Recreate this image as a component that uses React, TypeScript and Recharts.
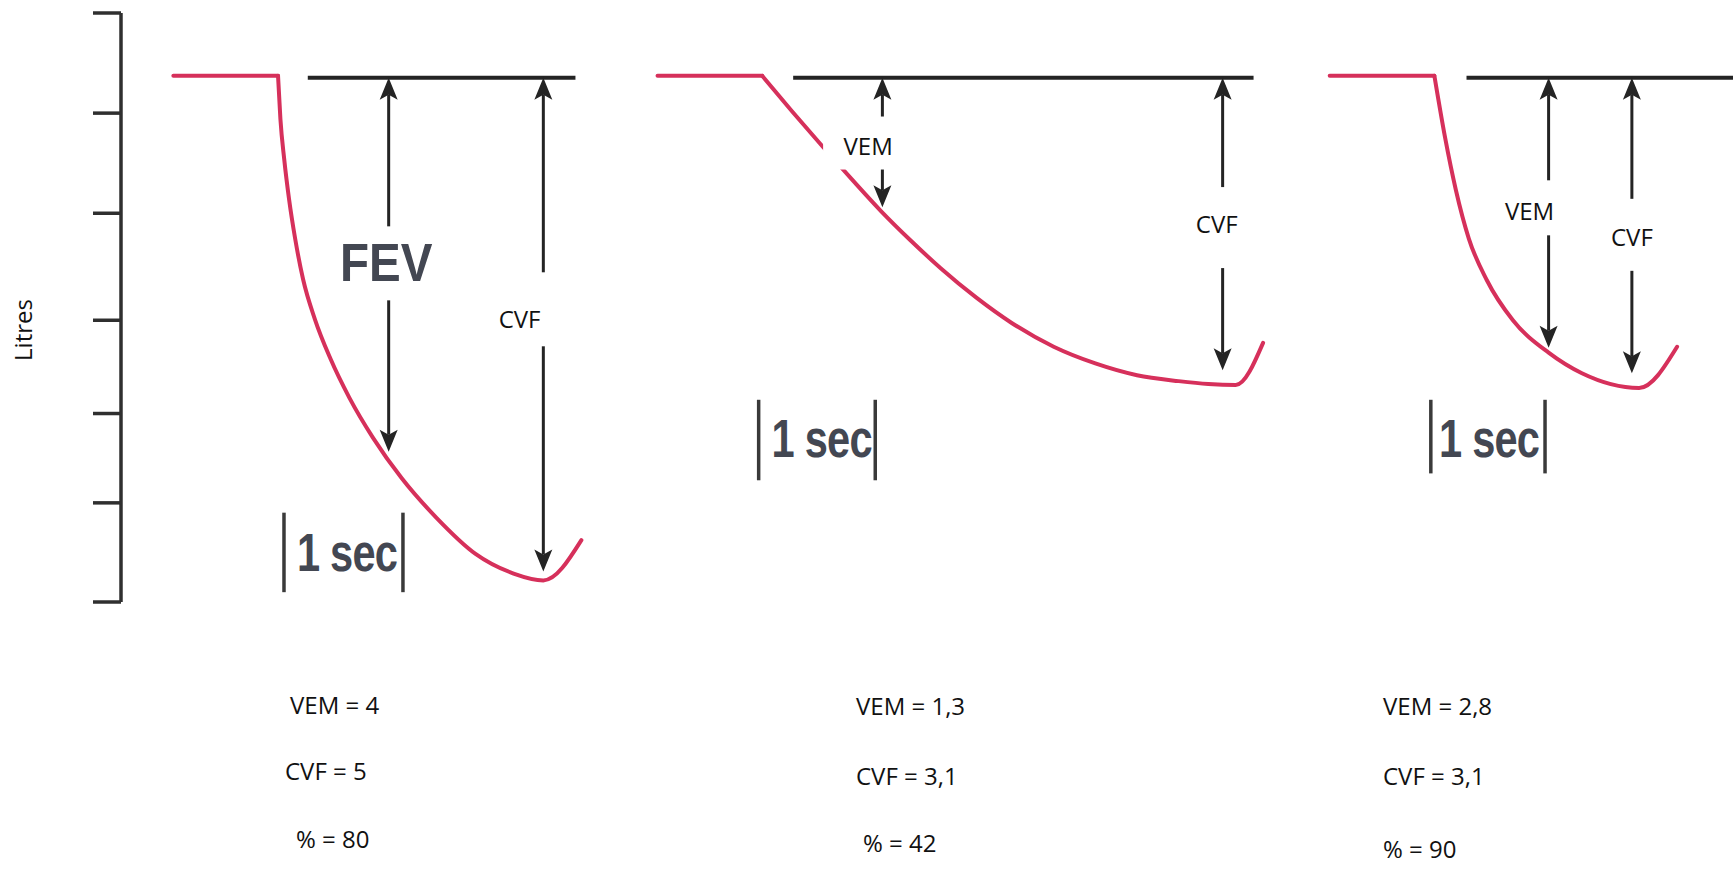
import React from 'react';
import { LineChart, Line, XAxis, YAxis, ReferenceLine, ReferenceDot } from 'recharts';

const RED = '#d6305b';
const INK = '#242424';
const AXIS = '#2f2f2f';
const LABEL_FONT = '"Open Sans", sans-serif';
const FIG_FONT = '"Liberation Sans", Arial, sans-serif';

// volume axis ticks (L)
const yTicks = [0, 1.01, 1.92, 2.87, 3.96, 4.98, 6];

// where each trace starts on the shared time axis (s)
const panelStart = [0, 4.07, 9.72];
const restFrom = -0.88;
const restVolume = 5.36;
const baselineVolume = 5.34;
const baselineFrom = [0.25, 0.26, 0.27];
const baselineTo = [2.5, 4.13, 2.51];

// expiration curves after onset: time (s) / volume (L)
const normalTime = [0, 0.02, 0.052, 0.093, 0.144, 0.21, 0.31, 0.44, 0.6, 0.8, 1.04, 1.33, 1.66, 1.98, 2.23, 2.55];
const normalVolume = [5.36, 4.92, 4.51, 4.1, 3.7, 3.29, 2.88, 2.48, 2.08, 1.67, 1.26, 0.86, 0.49, 0.29, 0.22, 0.63];

const obstructiveTime = [0, 0.25, 0.5, 0.75, 1.0, 1.25, 1.5, 1.8, 2.1, 2.45, 2.8, 3.15, 3.5, 3.75, 3.98, 4.21];
const obstructiveVolume = [5.36, 5.0, 4.65, 4.31, 3.98, 3.68, 3.4, 3.1, 2.84, 2.6, 2.43, 2.31, 2.25, 2.22, 2.21, 2.64];

const restrictiveTime = [0, 0.09, 0.18, 0.29, 0.44, 0.66, 0.96, 1.24, 1.72, 2.04];
const restrictiveVolume = [5.36, 4.73, 4.2, 3.7, 3.28, 2.87, 2.54, 2.33, 2.18, 2.6];

// double arrows: VEM (FEV) and CVF
const vemTime = [0.93, 1.01, 0.96];
const vemEnd = [1.53, 4.02, 2.59];
const cvfTime = [2.23, 3.87, 1.66];
const cvfEnd = [0.31, 2.36, 2.33];

// "|1 sec|" markers
const secFrom = [0.05, -0.03, -0.03];
const secTo = [1.05, 0.95, 0.93];
const secTop = [0.91, 2.06, 2.06];
const secBottom = [0.1, 1.24, 1.31];
const secTextTime = [0.58, 0.5, 0.46];
const secTextVolume = [0.51, 1.67, 1.67];

// labels inside the panels
const tagText = ['FEV', 'CVF', 'VEM', 'CVF', 'VEM', 'CVF'];
const tagPanel = [0, 0, 1, 1, 2, 2];
const tagTime = [0.91, 2.03, 0.89, 3.82, 0.8, 1.66];
const tagVolume = [3.46, 2.89, 4.65, 3.86, 3.99, 3.72];

// summary under each panel
const vemValue = ['4', '1,3', '2,8'];
const cvfValue = ['5', '3,1', '3,1'];
const ratioValue = ['80', '42', '90'];

// styling only: white boxes [dx, dy, w, h] round each tag, summary text spots
const tagBox = [[-46, -36, 94, 74], [-42, -46, 122, 74], [-45, -29, 124, 53], [-39, -36, 103, 81], [-45, -30, 132, 55], [-33, -38, 106, 72]];
const summarySpots = [
  [[290, 704], [285, 770], [296, 838]],
  [[856, 705], [856, 775], [863, 842]],
  [[1383, 705], [1383, 775], [1383, 848]],
];

const curves = [
  { time: normalTime, vol: normalVolume },
  { time: obstructiveTime, vol: obstructiveVolume },
  { time: restrictiveTime, vol: restrictiveVolume },
].map((c, p) => c.time.map((t, i) => ({ x: t + panelStart[p], y: c.vol[i] })));

const restLines = panelStart.map((t0) => [
  { x: t0 + restFrom, y: restVolume },
  { x: t0, y: restVolume },
]);

const noTick = () => <g />;

const arrowShape = (props: any) => {
  const { x1, y1, y2 } = props;
  const top = Math.min(y1, y2);
  const bot = Math.max(y1, y2);
  const h = 22;
  const w = 9;
  const notch = 5;
  return (
    <g>
      <line x1={x1} y1={top + h - notch} x2={x1} y2={bot - h + notch} stroke={INK} strokeWidth={3} />
      <polygon points={`${x1},${top} ${x1 - w},${top + h} ${x1},${top + h - notch} ${x1 + w},${top + h}`} fill={INK} />
      <polygon points={`${x1},${bot} ${x1 - w},${bot - h} ${x1},${bot - h + notch} ${x1 + w},${bot - h}`} fill={INK} />
    </g>
  );
};

const figText = (cx: number, cy: number, text: string, sx: number, spacing = 0) => (
  <text
    transform={`translate(${cx},${cy}) scale(${sx},1)`}
    textAnchor="middle"
    dominantBaseline="central"
    fontFamily={FIG_FONT}
    fontWeight={700}
    fontSize={54}
    letterSpacing={spacing}
    fill="#434752"
  >
    {text}
  </text>
);

const tagShape = (i: number) => (props: any) => {
  const { cx, cy } = props;
  const [dx, dy, w, h] = tagBox[i];
  return (
    <g>
      <rect x={cx + dx} y={cy + dy} width={w} height={h} fill="#ffffff" />
      {tagText[i] === 'FEV' ? (
        figText(cx, cy, tagText[i], 0.88)
      ) : (
        <text x={cx} y={cy} textAnchor="middle" dominantBaseline="central" fontFamily={LABEL_FONT} fontSize={24} fill="#111">
          {tagText[i]}
        </text>
      )}
    </g>
  );
};

const secShape = (props: any) => figText(props.cx, props.cy, '1 sec', 0.77, -1);

export default function App() {
  const summary = [0, 1, 2].flatMap((p) =>
    [`VEM = ${vemValue[p]}`, `CVF = ${cvfValue[p]}`, `% = ${ratioValue[p]}`].map((txt, r) => (
      <div
        key={`s-${p}-${r}`}
        style={{
          position: 'absolute',
          left: summarySpots[p][r][0],
          top: summarySpots[p][r][1],
          transform: 'translateY(-50%)',
          fontFamily: LABEL_FONT,
          fontSize: 24,
          color: '#111',
          whiteSpace: 'nowrap',
        }}
      >
        {txt}
      </div>
    ))
  );

  return (
    <div style={{ position: 'absolute', left: 0, top: 0, width: 1733, height: 870, background: '#fff', overflow: 'hidden' }}>
      <LineChart width={1733} height={870} margin={{ top: 13, right: 0, bottom: 268, left: 0 }}>
        <XAxis type="number" dataKey="x" domain={[-1.32, 12.23]} hide allowDataOverflow />
        <YAxis
          type="number"
          domain={[0, 6]}
          ticks={yTicks}
          interval={0}
          width={121}
          tick={noTick}
          tickSize={28}
          axisLine={{ stroke: AXIS, strokeWidth: 3.5 }}
          tickLine={{ stroke: AXIS, strokeWidth: 3.5 }}
        />
        {restLines.map((d, p) => (
          <Line
            key={`rest-${p}`}
            data={d}
            dataKey="y"
            type="linear"
            stroke={RED}
            strokeWidth={4}
            strokeLinecap="round"
            dot={false}
            activeDot={false}
            isAnimationActive={false}
          />
        ))}
        {curves.map((d, p) => (
          <Line
            key={`curve-${p}`}
            data={d}
            dataKey="y"
            type="monotone"
            stroke={RED}
            strokeWidth={4}
            strokeLinecap="round"
            dot={false}
            activeDot={false}
            isAnimationActive={false}
          />
        ))}
        {panelStart.map((t0, p) => (
          <ReferenceLine
            key={`base-${p}`}
            segment={[{ x: t0 + baselineFrom[p], y: baselineVolume }, { x: t0 + baselineTo[p], y: baselineVolume }]}
            stroke={INK}
            strokeWidth={4}
            ifOverflow="visible"
          />
        ))}
        {panelStart.map((t0, p) => (
          <ReferenceLine
            key={`vem-${p}`}
            segment={[{ x: t0 + vemTime[p], y: baselineVolume }, { x: t0 + vemTime[p], y: vemEnd[p] }]}
            shape={arrowShape}
            ifOverflow="visible"
          />
        ))}
        {panelStart.map((t0, p) => (
          <ReferenceLine
            key={`cvf-${p}`}
            segment={[{ x: t0 + cvfTime[p], y: baselineVolume }, { x: t0 + cvfTime[p], y: cvfEnd[p] }]}
            shape={arrowShape}
            ifOverflow="visible"
          />
        ))}
        {panelStart.flatMap((t0, p) =>
          [secFrom[p], secTo[p]].map((t, k) => (
            <ReferenceLine
              key={`sec-${p}-${k}`}
              segment={[{ x: t0 + t, y: secTop[p] }, { x: t0 + t, y: secBottom[p] }]}
              stroke="#3a3a3a"
              strokeWidth={3.5}
              ifOverflow="visible"
            />
          ))
        )}
        {panelStart.map((t0, p) => (
          <ReferenceDot
            key={`sectxt-${p}`}
            x={t0 + secTextTime[p]}
            y={secTextVolume[p]}
            r={0}
            shape={secShape}
            ifOverflow="visible"
          />
        ))}
        {tagText.map((_, i) => (
          <ReferenceDot
            key={`tag-${i}`}
            x={panelStart[tagPanel[i]] + tagTime[i]}
            y={tagVolume[i]}
            r={0}
            shape={tagShape(i)}
            ifOverflow="visible"
            zIndex={2000}
          />
        ))}
      </LineChart>
      <div
        style={{
          position: 'absolute',
          left: 22,
          top: 330,
          transform: 'translate(-50%, -50%) rotate(-90deg)',
          fontFamily: LABEL_FONT,
          fontSize: 24,
          color: '#111',
        }}
      >
        Litres
      </div>
      {summary}
    </div>
  );
}
